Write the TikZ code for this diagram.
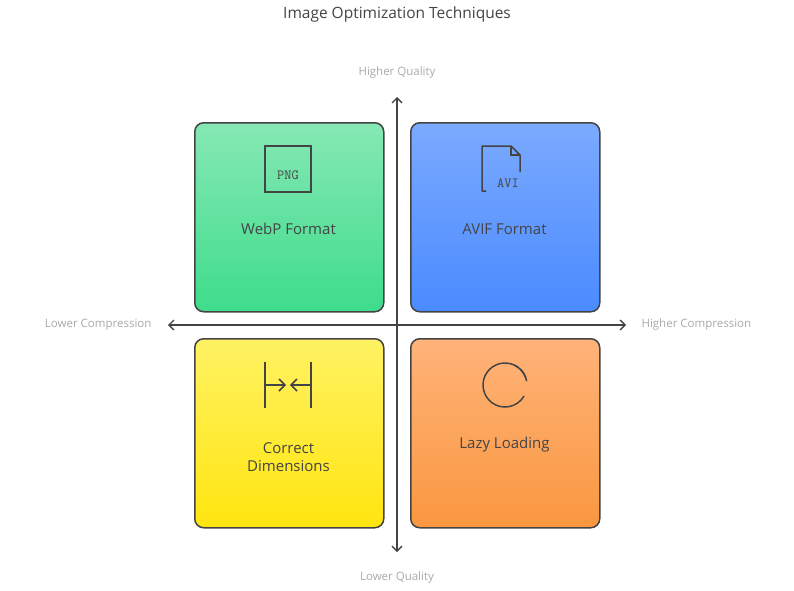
\documentclass[tikz,border=0pt]{standalone}
\usepackage{fontspec}
\setmainfont{Open Sans}
\usetikzlibrary{arrows.meta}
\definecolor{edge}{HTML}{444444}
\definecolor{axl}{HTML}{AAAAAA}
\tikzset{x=1pt,y=-1pt,
 quad/.style={draw=edge,line width=1.5pt,rounded corners=9pt,minimum width=189pt,minimum height=189pt,anchor=north west},
 lab/.style={font=\fontsize{15}{18}\selectfont,text=edge,align=center},
 axlab/.style={font=\fontsize{11.5}{14}\selectfont,text=axl},
 ax/.style={draw=edge,line width=1.3pt,-{Straight Barb[length=5pt,width=10pt]}},
 ic/.style={draw=edge,line width=1.5pt}}
\begin{document}
\begin{tikzpicture}
\useasboundingbox[fill=white] (0,0) rectangle (794,590);
\node[font=\fontsize{15.5}{18}\selectfont,text=edge] (title) at (397,14) {Image Optimization Techniques};
\node[quad,top color={rgb,255:red,134;green,232;blue,180},bottom color={rgb,255:red,62;green,220;blue,140}] (g) at (194,122) {};
\node[quad,top color={rgb,255:red,123;green,170;blue,255},bottom color={rgb,255:red,74;green,139;blue,255}] (b) at (410,122) {};
\node[quad,top color={rgb,255:red,255;green,242;blue,99},bottom color={rgb,255:red,255;green,229;blue,15}] (y) at (194,338) {};
\node[quad,top color={rgb,255:red,255;green,179;blue,121},bottom color={rgb,255:red,249;green,151;blue,64}] (o) at (410,338) {};
\coordinate (c) at (397,325);
\coordinate (top) at (397,97);
\coordinate (bot) at (397,552);
\coordinate (lft) at (168,325);
\coordinate (rgt) at (626,325);
\draw[ax] (c) -- (top);
\draw[ax] (c) -- (bot);
\draw[ax] (c) -- (lft);
\draw[ax] (c) -- (rgt);
\node[axlab] (hq) at (397,73) {Higher Quality};
\node[axlab] (lq) at (397,577) {Lower Quality};
\node[axlab,anchor=east] (lc) at (155,325) {Lower Compression};
\node[axlab,anchor=west] (hc) at (638,325) {Higher Compression};
\node[lab] (t1) at (288.5,229) {WebP Format};
\node[lab] (t2) at (504.5,229) {AVIF Format};
\node[lab] (t3) at (288.5,457) {Correct\\Dimensions};
\node[lab] (t4) at (504.5,445) {Lazy Loading};
% PNG icon
\draw[ic] (265,146) rectangle (311,192);
\node[font=\fontsize{14}{14}\selectfont\ttfamily,text=edge] (png) at (288,175) {PNG};
% AVI icon
\draw[ic,line join=round] (486,191) -- (482,191) -- (482,146) -- (511,146) -- (520,155) -- (520,172);
\draw[ic] (511,146) -- (511,155) -- (520,155);
\node[font=\fontsize{14}{14}\selectfont\ttfamily,text=edge] (avi) at (508,183) {AVI};
% dimensions icon
\draw[ic] (265,362) -- (265,408);
\draw[ic] (311,362) -- (311,408);
\draw[ic] (265,385) -- (285,385);
\draw[ic] (279,379) -- (285,385) -- (279,391);
\draw[ic] (311,385) -- (291,385);
\draw[ic] (297,379) -- (291,385) -- (297,391);
% loading icon
\draw[ic] (505,385) ++(-10:22) arc[start angle=-10,end angle=-330,radius=22];
\draw[ic] (505,385) ++(-45:22) arc[start angle=-45,end angle=-20,radius=22];
\draw[ic] (505,385) ++(-62:22) arc[start angle=-62,end angle=-52,radius=22];
\end{tikzpicture}
\end{document}
